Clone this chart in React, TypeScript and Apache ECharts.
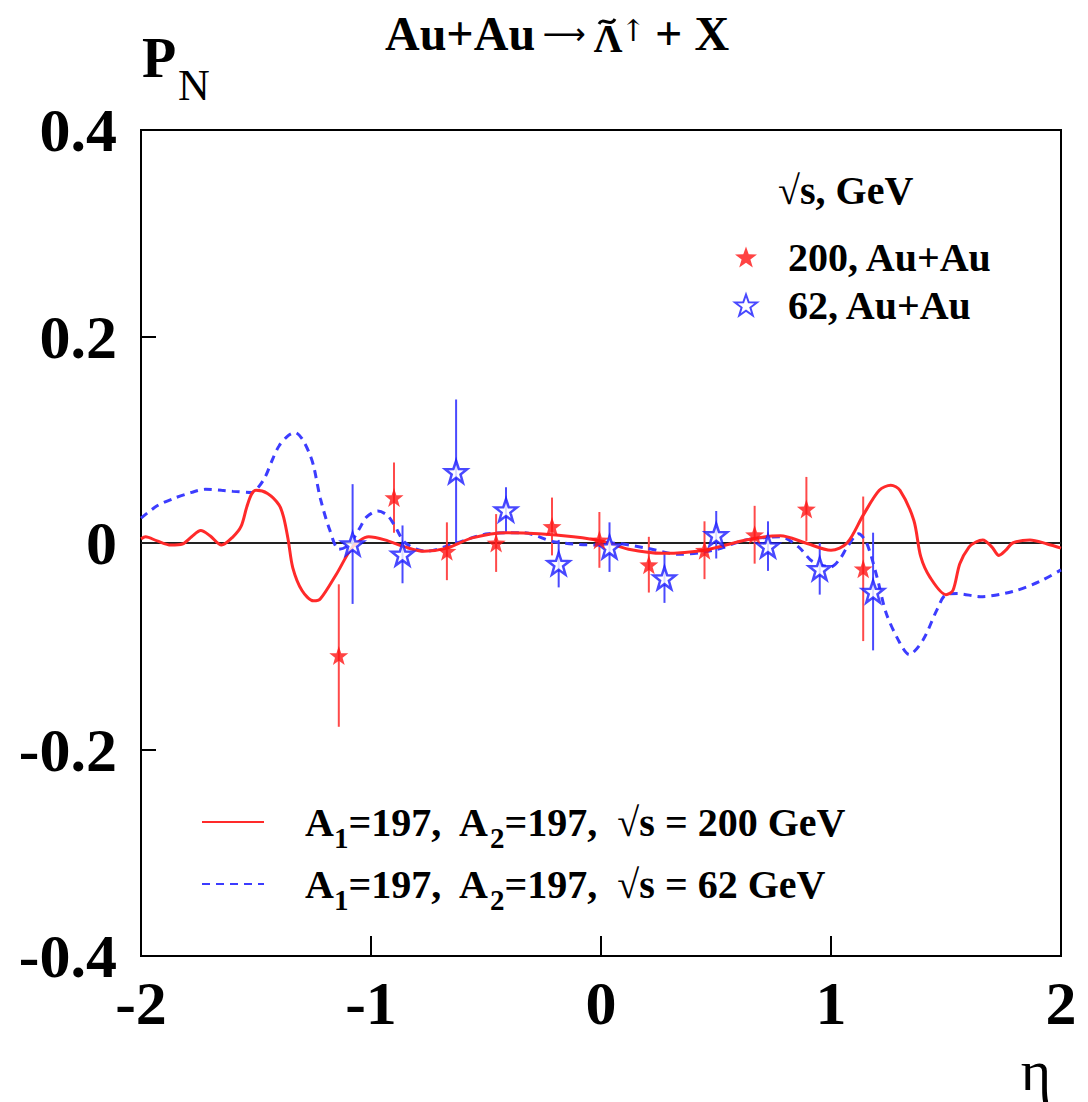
import React, { useEffect, useRef } from "react";
import * as echarts from "echarts";

const FONT = "'Liberation Serif', 'Times New Roman', serif";

// eta tick values
const xTickValues = [-2, -1, 0, 1, 2];
const yTickValues = [-0.4, -0.2, 0, 0.2, 0.4];

// data points: [eta, P_N, error]
const stars200 = [
  [-1.14, -0.109, 0.069],
  [-0.9, 0.044, 0.034],
  [-0.67, -0.008, 0.028],
  [-0.456, 0.0, 0.028],
  [-0.213, 0.016, 0.028],
  [-0.007, 0.003, 0.027],
  [0.208, -0.021, 0.027],
  [0.45, -0.007, 0.028],
  [0.668, 0.008, 0.028],
  [0.893, 0.033, 0.031],
  [1.14, -0.025, 0.07],
];

const stars62 = [
  [-1.08, -0.001, 0.058],
  [-0.863, -0.011, 0.028],
  [-0.63, 0.069, 0.07],
  [-0.413, 0.032, 0.022],
  [-0.184, -0.02, 0.023],
  [0.037, -0.004, 0.024],
  [0.276, -0.034, 0.024],
  [0.501, 0.008, 0.023],
  [0.726, -0.003, 0.024],
  [0.951, -0.025, 0.025],
  [1.183, -0.047, 0.057],
];

// model curves: [eta, P_N]
const curve200 = [
  [-2, 0.004], [-1.98, 0.006], [-1.93, 0.002], [-1.87, -0.002], [-1.82, -0.001],
  [-1.78, 0.006], [-1.74, 0.012], [-1.7, 0.007], [-1.65, -0.002], [-1.6, 0.006],
  [-1.565, 0.016], [-1.54, 0.035], [-1.52, 0.047], [-1.5, 0.051], [-1.45, 0.048],
  [-1.4, 0.037], [-1.38, 0.025], [-1.36, 0.003], [-1.34, -0.024], [-1.3, -0.046],
  [-1.25, -0.056], [-1.22, -0.054], [-1.15, -0.03], [-1.08, -0.004], [-1.01, 0.006],
  [-0.94, 0.003], [-0.85, -0.004], [-0.77, -0.008], [-0.67, -0.005], [-0.56, 0.005],
  [-0.41, 0.01], [-0.27, 0.009], [-0.12, 0.006], [0, 0.002], [0.12, -0.006],
  [0.27, -0.01], [0.45, -0.007], [0.63, 0.003], [0.78, 0.007], [0.89, 0.0],
  [1.0, -0.007], [1.07, 0.0], [1.14, 0.027], [1.21, 0.051], [1.26, 0.056],
  [1.3, 0.051], [1.36, 0.022], [1.39, -0.013], [1.43, -0.033], [1.5, -0.05],
  [1.53, -0.046], [1.56, -0.02], [1.6, -0.004], [1.63, 0.001], [1.66, 0.003],
  [1.7, -0.004], [1.73, -0.012], [1.76, -0.007], [1.79, 0.0], [1.865, 0.003],
  [1.94, -0.001], [2.0, -0.005],
];

const curve62 = [
  [-2, 0.024], [-1.93, 0.036], [-1.86, 0.043], [-1.78, 0.049], [-1.72, 0.052],
  [-1.65, 0.051], [-1.6, 0.05], [-1.52, 0.049], [-1.49, 0.054], [-1.46, 0.064],
  [-1.43, 0.08], [-1.4, 0.094], [-1.36, 0.104], [-1.33, 0.107], [-1.3, 0.101],
  [-1.27, 0.088], [-1.25, 0.075], [-1.22, 0.043], [-1.18, 0.013], [-1.14, -0.006],
  [-1.11, -0.004], [-1.08, 0.003], [-1.05, 0.014], [-1.02, 0.025], [-0.97, 0.031],
  [-0.93, 0.027], [-0.9, 0.018], [-0.85, 0.0], [-0.76, -0.008], [-0.63, 0.0],
  [-0.49, 0.009], [-0.34, 0.01], [-0.2, 0.001], [-0.01, -0.002], [0.04, 0.0],
  [0.2, -0.005], [0.34, -0.011], [0.49, -0.007], [0.63, 0.003], [0.78, 0.006],
  [0.86, -0.004], [0.92, -0.018], [1.0, -0.023], [1.04, -0.015], [1.07, -0.004],
  [1.12, 0.009], [1.155, 0.0], [1.2, -0.033], [1.24, -0.068], [1.3, -0.097],
  [1.34, -0.108], [1.4, -0.094], [1.46, -0.065], [1.5, -0.05], [1.55, -0.049],
  [1.65, -0.052], [1.79, -0.047], [1.91, -0.037], [2.0, -0.026],
];

const NAME_S200 = "200, Au+Au";
const NAME_S62 = "62, Au+Au";
const NAME_C200 = "A1=197, A2=197, √s = 200 GeV";
const NAME_C62 = "A1=197, A2=197, √s = 62 GeV";

const STAR =
  "path://M0,-10 L2.35,-3.24 L9.51,-3.09 L3.8,1.24 L5.88,8.09 L0,4 L-5.88,8.09 L-3.8,1.24 L-9.51,-3.09 L-2.35,-3.24 Z";

const RED = "#ff1414";
const RED_BAR = "#ff4a4a";
const RED_LINE = "#ff2a2a";
const BLUE = "#1a1aff";
const BLUE_BAR = "#4a4aff";
const BLUE_LINE = "#3c3cff";

function errorBars(name: string, data: number[][], color: string) {
  return {
    type: "custom",
    name: name + " err",
    data,
    encode: { x: 0, y: 1 },
    z: 2,
    silent: true,
    renderItem: (params: any, api: any) => {
      const x = api.value(0);
      const y = api.value(1);
      const e = api.value(2);
      const top = api.coord([x, y + e]);
      const bot = api.coord([x, y - e]);
      return {
        type: "line",
        shape: { x1: top[0], y1: top[1], x2: bot[0], y2: bot[1] },
        style: { stroke: color, lineWidth: 2 },
      };
    },
  };
}

export default function App() {
  const ref = useRef<HTMLDivElement>(null);
  useEffect(() => {
    if (!ref.current) return;
    const chart = echarts.init(ref.current, undefined, { renderer: "svg" });
    const legendRich = {
      t: { fontFamily: FONT, fontWeight: "bold", fontSize: 40, lineHeight: 40, color: "#000", verticalAlign: "top" },
      s: { fontFamily: FONT, fontWeight: "bold", fontSize: 29, lineHeight: 29, color: "#000", verticalAlign: "top", padding: [21, 0, 0, 0] },
      g: { width: 36 },
    };
    const titleA = { fontFamily: FONT, fontWeight: "bold", fontSize: 48, lineHeight: 50, fill: "#000", verticalAlign: "middle" };
    const option: any = {
      animation: false,
      backgroundColor: "#ffffff",
      grid: {
        left: 141,
        right: 27,
        top: 130,
        bottom: 146,
        show: true,
        borderColor: "#000",
        borderWidth: 2,
        backgroundColor: "transparent",
      },
      xAxis: {
        type: "value",
        min: -2,
        max: 2,
        interval: 1,
        axisLine: { show: false, onZero: false },
        splitLine: { show: false },
        axisTick: { show: true, inside: true, length: 20, lineStyle: { color: "#000", width: 2 } },
        axisLabel: {
          margin: 16,
          fontFamily: FONT,
          fontWeight: "bold",
          fontSize: 62,
          color: "#000",
          formatter: (v: number) => (xTickValues.includes(v) ? String(v) : ""),
        },
      },
      yAxis: {
        type: "value",
        min: -0.4,
        max: 0.4,
        interval: 0.2,
        axisLine: { show: false, onZero: false },
        splitLine: { show: false },
        axisTick: { show: true, inside: true, length: 15, lineStyle: { color: "#000", width: 2 } },
        axisLabel: {
          margin: 24,
          fontFamily: FONT,
          fontWeight: "bold",
          fontSize: 62,
          color: "#000",
          formatter: (v: number) => {
            const t = yTickValues.find((q) => Math.abs(q - v) < 1e-9);
            if (t === undefined) return "";
            return Math.abs(t) < 1e-9 ? "0" : t.toFixed(1);
          },
        },
      },
      legend: [
        {
          orient: "vertical",
          left: 729,
          top: 232,
          itemWidth: 22,
          itemHeight: 22,
          itemGap: 8,
          data: [
            { name: NAME_S200, icon: STAR },
            { name: NAME_S62, icon: STAR },
          ],
          formatter: "{p|}{t|{name}}",
          textStyle: {
            rich: {
              p: { width: 26 },
              t: { fontFamily: FONT, fontWeight: "bold", fontSize: 40, color: "#000" },
            },
          },
        },
        {
          orient: "vertical",
          left: 196,
          top: 797,
          itemWidth: 62,
          itemHeight: 14,
          itemGap: 12,
          itemStyle: { opacity: 0 },
          data: [{ name: NAME_C200 }, { name: NAME_C62 }],
          formatter: (name: string) => {
            const e = name === NAME_C200 ? "200" : "62";
            return `{g|}{t|A}{s|1}{t|=197,  A}{s|2}{t|=197,  √s = ${e} GeV}`;
          },
          textStyle: { rich: legendRich },
        },
      ],
      graphic: [
        {
          type: "text",
          x: 385,
          y: 33,
          style: {
            text: "{a|Au+Au}{r|⟶}{L|Λ}{u|↑}{sp|}{a|+ X}",
            textAlign: "left",
            textVerticalAlign: "middle",
            rich: {
              a: titleA,
              r: { fontFamily: "'DejaVu Sans', sans-serif", fontSize: 30, lineHeight: 50, fill: "#000", verticalAlign: "middle", width: 58, align: "right" },
              L: { fontFamily: FONT, fontWeight: "bold", fontSize: 40, lineHeight: 40, fill: "#000", verticalAlign: "bottom", width: 30, align: "center" },
              u: { fontFamily: "'DejaVu Serif', serif", fontSize: 30, lineHeight: 30, fill: "#000", verticalAlign: "top", width: 20, align: "center", padding: [7, 0, 0, 0] },
              sp: { width: 12 },
            },
          },
        },
        {
          type: "bezierCurve",
          shape: { x1: 599, y1: 24, cpx1: 603, cpy1: 16, cpx2: 610, cpy2: 28, x2: 615, y2: 19 },
          style: { stroke: "#000", lineWidth: 3, fill: "none" },
        },
        {
          type: "text",
          x: 142,
          y: 58,
          style: { text: "P", fontFamily: FONT, fontWeight: "bold", fontSize: 56, fill: "#000", textVerticalAlign: "middle" },
        },
        {
          type: "text",
          x: 178,
          y: 85,
          style: { text: "N", fontFamily: FONT, fontSize: 44, fill: "#000", textVerticalAlign: "middle" },
        },
        {
          type: "text",
          x: 1036,
          y: 1070,
          style: { text: "η", fontFamily: FONT, fontSize: 58, fill: "#000", textAlign: "center", textVerticalAlign: "middle" },
        },
        {
          type: "text",
          x: 778,
          y: 190,
          style: { text: "√s, GeV", fontFamily: FONT, fontWeight: "bold", fontSize: 40, fill: "#000", textVerticalAlign: "middle" },
        },
      ],
      series: [
        {
          type: "line",
          name: "zero",
          data: [[-2, 0], [2, 0]],
          symbol: "none",
          lineStyle: { color: "#222", width: 2 },
          z: 1,
          silent: true,
        },
        errorBars(NAME_S200, stars200, RED_BAR),
        errorBars(NAME_S62, stars62, BLUE_BAR),
        {
          type: "line",
          name: NAME_C62,
          data: curve62,
          showSymbol: false,
          symbol: "none",
          smooth: 0.3,
          lineStyle: { color: BLUE_LINE, width: 3, type: [8, 6] },
          itemStyle: { color: BLUE_LINE },
          z: 3,
        },
        {
          type: "line",
          name: NAME_C200,
          data: curve200,
          showSymbol: false,
          symbol: "none",
          smooth: 0.3,
          lineStyle: { color: RED_LINE, width: 3 },
          itemStyle: { color: RED_LINE },
          z: 4,
        },
        {
          type: "scatter",
          name: NAME_S62,
          data: stars62.map((d) => [d[0], d[1]]),
          symbol: STAR,
          symbolSize: 22,
          itemStyle: { color: "#ffffff", borderColor: BLUE, borderWidth: 2.5 },
          z: 5,
        },
        {
          type: "scatter",
          name: NAME_S200,
          data: stars200.map((d) => [d[0], d[1]]),
          symbol: STAR,
          symbolSize: 19,
          itemStyle: { color: RED },
          z: 6,
        },
      ],
    };
    chart.setOption(option);
    return () => chart.dispose();
  }, []);
  return (
    <div
      ref={ref}
      style={{ position: "fixed", left: 0, top: 0, width: 1088, height: 1102, background: "#fff" }}
    />
  );
}
